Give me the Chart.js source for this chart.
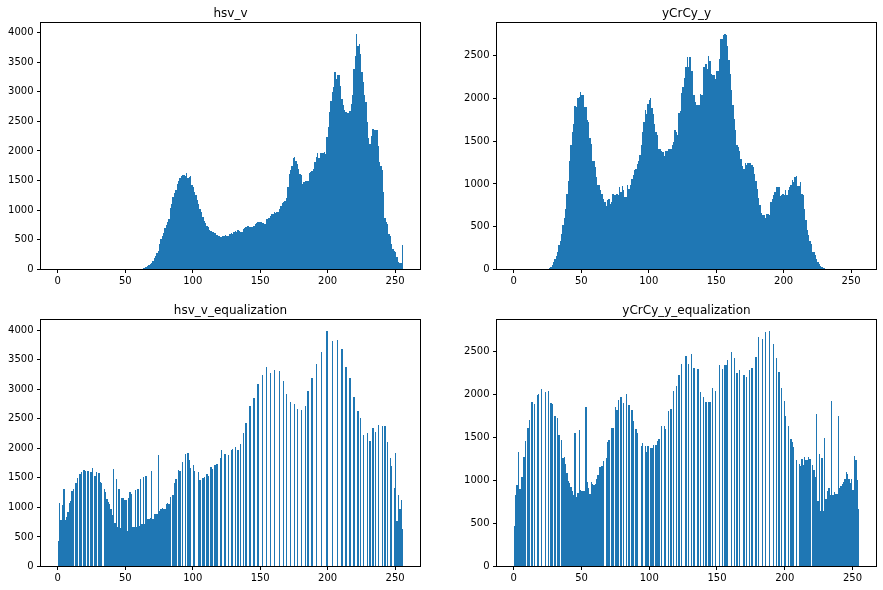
<!DOCTYPE html>
<html>
<head>
<meta charset="utf-8">
<script src="https://cdn.jsdelivr.net/npm/chart.js@4.4.0/dist/chart.umd.min.js"></script>
<style>
  body { margin: 0; background: #fff; width: 883px; height: 590px; overflow: hidden; position: relative; }
  canvas { position: absolute; }
</style>
</head>
<body>
<canvas id="c0"></canvas>
<canvas id="c1"></canvas>
<canvas id="c2"></canvas>
<canvas id="c3"></canvas>
<script>
// histogram counts, one value per bin (256 bins)
const hsvV = [
  0,0,0,0,0,0,0,0,0,0,0,0,0,0,0,0,
  0,0,0,0,0,0,0,0,0,0,0,0,0,0,0,0,
  0,0,0,0,0,0,0,0,0,0,0,0,0,0,0,0,
  0,0,0,0,0,0,0,0,0,0,0,0,0,0,16,22,
  33,50,56,73,101,118,151,202,225,275,315,438,517,560,610,697,
  750,800,850,1030,1108,1230,1290,1350,1440,1490,1540,1580,1597,1600,1586,1631,
  1540,1560,1586,1420,1389,1300,1250,1180,1100,1023,970,880,820,780,740,714,
  670,650,640,625,613,590,580,560,550,545,560,570,575,560,573,600,
  620,600,640,652,640,660,650,640,641,680,700,710,730,742,720,714,
  720,730,760,780,798,800,809,790,780,776,854,860,877,910,933,940,
  967,960,967,967,1023,1068,1120,1147,1164,1209,1400,1614,1680,1755,1879,1901,
  1830,1783,1699,1614,1600,1450,1485,1490,1500,1502,1625,1650,1670,1699,1811,1900,
  1963,1879,1958,1958,1970,1991,1941,2244,2400,2650,2840,2990,3080,3340,3220,3290,
  3285,3100,2880,2780,2700,2650,2643,2643,2683,2800,2950,3390,3610,3970,3780,3800,
  3645,3340,3170,2950,2820,2490,2216,2115,2261,2373,2360,2351,2351,2092,1822,1750,
  1682,1316,866,800,770,601,573,433,349,320,292,208,124,107,107,416
];

const yCrCyY = [
  0,0,0,0,0,0,0,0,0,0,0,0,0,0,0,0,
  0,0,0,0,0,0,0,0,0,0,15,31,54,85,117,156,
  210,281,339,417,515,601,710,885,1030,1264,1459,1607,1705,1911,1899,2005,
  2017,2075,2036,2036,1899,1899,1743,1724,1536,1470,1264,1264,1197,1080,991,983,
  924,885,827,788,741,807,827,768,788,885,874,866,885,866,963,905,
  975,924,846,846,983,944,983,1061,1100,1158,1178,1236,1264,1334,1459,1607,
  1724,1861,1822,1939,1978,2005,1888,1822,1705,1607,1568,1404,1404,1381,1373,1326,
  1381,1381,1412,1412,1412,1459,1490,1626,1607,1568,1826,1857,2060,2130,2239,2364,
  2481,2364,2481,2325,2325,2036,1958,1919,1919,1919,2056,2036,2364,2364,2403,2345,
  2501,2442,2290,2278,2270,2231,2317,2325,2466,2700,2700,2740,2750,2746,2610,2446,
  2290,2095,1919,1755,1630,1459,1432,1381,1291,1213,1174,1244,1225,1244,1244,1244,
  1225,1197,1119,1030,944,835,749,663,639,639,601,651,651,632,788,827,
  866,905,963,963,963,858,874,885,866,924,866,924,963,983,1041,1022,
  1080,1092,975,975,1022,885,874,702,573,456,398,339,300,210,210,164,
  117,85,66,46,35,23,15,7,0,0,0,0,0,0,0,0,
  0,0,0,0,0,0,0,0,0,0,0,0,0,0,0,0
];

const hsvVEq = [
  435,1075,790,1040,1310,790,840,920,1075,1110,1280,1310,0,1406,1496,0,
  1564,1598,0,1626,1620,0,1615,0,1604,1660,0,1530,1598,0,1575,1435,
  1406,0,1305,1260,1142,1097,1052,978,872,1649,731,1480,664,1305,653,1159,
  1159,1125,1125,602,1159,1260,1225,664,664,1293,675,1317,686,1485,725,1513,
  725,1530,804,804,815,1615,804,883,883,889,1884,941,975,986,975,975,
  1052,1075,1058,1176,0,1204,1410,1480,0,1632,1615,0,1767,0,1902,0,
  1918,1800,1666,0,1716,1615,0,0,1598,1463,0,1497,1513,0,1564,1530,
  0,1683,1649,0,1716,1733,1733,0,1834,1969,0,1902,1902,0,1885,0,
  1969,1986,0,2019,0,1969,0,2070,0,2256,0,2425,0,0,2712,0,
  0,2847,0,0,3083,0,0,3235,0,0,3370,0,0,3269,0,0,
  3319,0,0,0,3302,0,0,3134,0,2914,0,0,2779,0,0,2745,
  0,2661,0,0,2644,0,0,2712,0,2965,0,0,3185,0,0,3421,
  0,0,0,3623,0,0,0,3980,0,0,0,3809,0,0,0,3826,
  0,0,3674,0,0,3370,0,0,3185,0,0,2864,0,0,2627,0,
  2509,0,2222,0,0,2256,0,2120,0,2340,0,2273,0,2391,0,0,
  2374,0,2374,0,2104,0,1834,1699,0,1328,1918,776,1210,973,1125,636
];

const yCrCyYEq = [
  469,833,954,1334,903,1039,1039,1275,1461,0,1612,1705,0,1915,0,1891,
  0,1996,2008,0,2066,0,0,2031,0,2043,0,1903,1891,0,1752,0,
  1729,1531,0,1473,1264,1275,1194,1089,996,973,926,880,833,1554,810,857,
  1589,891,880,876,880,1857,984,915,845,984,961,949,961,1019,1066,1159,
  1159,1170,1229,0,1264,1449,1473,0,1612,1612,0,1857,1822,1938,0,1973,
  0,1903,0,2008,0,1880,0,1822,1692,0,1601,1554,0,0,1404,1438,
  0,1404,1334,1404,0,1380,1380,1415,0,1415,1461,1484,0,1636,0,1636,
  1601,0,1810,0,1833,0,2043,0,2101,0,2229,0,2357,0,0,2450,
  0,2357,0,2473,0,2310,0,0,2298,0,2031,0,1973,0,1915,0,
  1915,1915,0,2078,0,2043,0,0,2345,0,2298,0,2345,2345,2403,0,
  0,2496,0,2426,0,2252,0,2287,0,0,2229,0,2205,0,2287,0,
  2310,0,0,2438,0,2671,0,0,2647,0,2729,0,0,2740,0,0,
  2589,0,2426,0,2264,0,2078,0,1927,1752,0,1636,0,1484,1449,1391,
  0,1240,0,1194,1170,1248,1182,1275,1240,1240,1275,1248,0,1182,1124,1043,
  1775,764,1310,647,1264,647,1496,787,880,915,837,1930,837,868,845,845,
  1752,915,938,961,984,1015,1101,1077,1019,973,1019,891,1287,1240,1008,671
];

const titles = ["hsv_v", "yCrCy_y", "hsv_v_equalization", "yCrCy_y_equalization"];
const xTickValues = [0, 50, 100, 150, 200, 250];
const yTicksHsv = [0, 500, 1000, 1500, 2000, 2500, 3000, 3500, 4000];
const yTicksYcc = [0, 500, 1000, 1500, 2000, 2500];

// bin width: hsv histograms use range [0,256], yCrCy equalized uses [0,255]
const panels = [
  { id: "c0", title: titles[0], data: hsvV, binWidth: 1, yTicks: yTicksHsv, box: { l: 40.5, t: 22.5, r: 420.5, b: 269.5 } },
  { id: "c1", title: titles[1], data: yCrCyY, binWidth: 1, yTicks: yTicksYcc, box: { l: 496.5, t: 22.5, r: 876.5, b: 269.5 } },
  { id: "c2", title: titles[2], data: hsvVEq, binWidth: 1, yTicks: yTicksHsv, box: { l: 40.5, t: 319.5, r: 420.5, b: 566.5 } },
  { id: "c3", title: titles[3], data: yCrCyYEq, binWidth: 255 / 256, yTicks: yTicksYcc, box: { l: 496.5, t: 319.5, r: 876.5, b: 566.5 } }
];

const font = "DejaVu Sans";

// axes box on all four sides, like matplotlib spines
const frame = {
  id: "frame",
  afterDraw(chart) {
    const { ctx, chartArea: a } = chart;
    ctx.save();
    ctx.strokeStyle = "#000";
    ctx.lineWidth = 1;
    ctx.strokeRect(a.left, a.top, a.right - a.left, a.bottom - a.top);
    ctx.restore();
  }
};

// snap bar edges to whole pixels so neighbouring bins join without seams
const snap = {
  id: "snap",
  beforeDatasetsDraw(chart) {
    chart.getDatasetMeta(0).data.forEach((bar) => {
      const l = Math.round(bar.x - bar.width / 2);
      const r = Math.round(bar.x + bar.width / 2);
      bar.x = (l + r) / 2;
      bar.width = r - l;
      bar.y = Math.round(bar.y);
      bar.base = Math.round(bar.base);
    });
  }
};

function makeChart(p) {
  const cl = Math.floor(p.box.l) - 42;
  const ct = Math.floor(p.box.t) - 23;
  const cw = Math.ceil(p.box.r) + 6 - cl;
  const ch = Math.ceil(p.box.b) + 26 - ct;
  const cv = document.getElementById(p.id);
  cv.width = cw;
  cv.height = ch;
  cv.style.left = cl + "px";
  cv.style.top = ct + "px";
  const yW = p.box.l - cl;
  const tH = p.box.t - ct;
  const padR = cl + cw - p.box.r;
  const xH = ct + ch - p.box.b;
  const hi = p.data.length * p.binWidth;
  const pts = p.data.map((v, i) => ({ x: (i + 0.5) * p.binWidth, y: v }));

  new Chart(cv, {
    type: "bar",
    data: {
      datasets: [{
        data: pts,
        backgroundColor: "#1f77b4",
        borderWidth: 0,
        inflateAmount: 0,
        barPercentage: 1,
        categoryPercentage: 1
      }]
    },
    options: {
      responsive: false,
      animation: false,
      events: [],
      layout: { padding: { left: 0, right: padR, top: 0, bottom: 0 } },
      plugins: {
        legend: { display: false },
        tooltip: { enabled: false },
        title: {
          display: true,
          fullSize: false,
          text: p.title,
          color: "#000",
          font: { family: font, size: 12, weight: "normal", lineHeight: 1.2 },
          padding: { top: tH - 15.9, bottom: 1.5 }
        }
      },
      scales: {
        x: {
          type: "linear",
          min: -0.05 * hi,
          max: 1.05 * hi,
          offset: false,
          afterBuildTicks: (s) => { s.ticks = xTickValues.map((v) => ({ value: v })); },
          afterFit: (s) => { s.height = xH; },
          grid: { display: true, offset: false, drawOnChartArea: false, drawTicks: true, tickLength: 3.5, tickColor: "#000" },
          border: { display: false },
          ticks: { color: "#000", font: { family: font, size: 10 }, padding: 2.5, maxRotation: 0, autoSkip: false, callback: (v) => String(v) }
        },
        y: {
          min: 0,
          max: 1.05 * Math.max(...p.data),
          afterBuildTicks: (s) => { s.ticks = p.yTicks.map((v) => ({ value: v })); },
          afterFit: (s) => { s.width = yW; },
          grid: { display: true, drawOnChartArea: false, drawTicks: true, tickLength: 3.5, tickColor: "#000" },
          border: { display: false },
          ticks: { color: "#000", font: { family: font, size: 10 }, padding: 3.5, autoSkip: false, callback: (v) => String(v) }
        }
      }
    },
    plugins: [snap, frame]
  });
}

panels.forEach(makeChart);
</script>
</body>
</html>
